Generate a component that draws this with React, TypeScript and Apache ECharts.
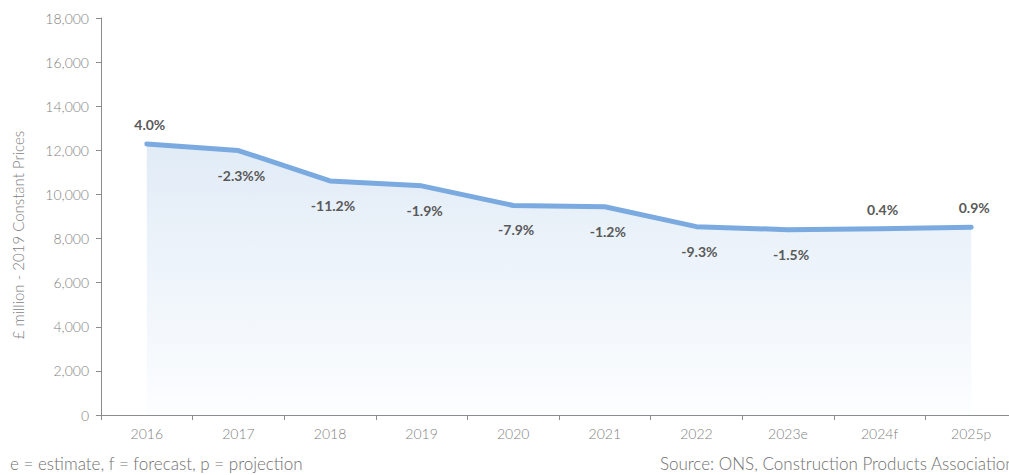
import React, { useEffect, useRef } from "react";
import * as echarts from "echarts";

const categories = ["2016", "2017", "2018", "2019", "2020", "2021", "2022", "2023e", "2024f", "2025p"];
const values = [12290, 11990, 10610, 10390, 9500, 9440, 8540, 8400, 8440, 8510];
const changeLabels = ["4.0%", "-2.3%%", "-11.2%", "-1.9%", "-7.9%", "-1.2%", "-9.3%", "-1.5%", "0.4%", "0.9%"];
const labelAbove = [true, false, false, false, false, false, false, false, true, true];
const yTicks = { min: 0, max: 18000, interval: 2000 };
const yName = "£ million - 2019 Constant Prices";
const noteText = "e = estimate, f = forecast, p = projection";
const sourceText = "Source: ONS, Construction Products Association";

const FONT = "Lato, 'Open Sans', sans-serif";

export default function App() {
  const ref = useRef<HTMLDivElement>(null);
  useEffect(() => {
    if (!ref.current) return;
    const chart = echarts.init(ref.current, null, { renderer: "svg" });
    const data = values.map((v, i) => ({
      value: v,
      label: {
        show: true,
        position: labelAbove[i] ? "top" : "bottom",
        distance: labelAbove[i] ? 12 : 17,
        offset: [3, 0],
        formatter: changeLabels[i],
      },
    }));
    chart.setOption({
      animation: false,
      grid: { left: 101, right: 13, top: 18, bottom: 60 },
      xAxis: {
        type: "category",
        data: categories,
        boundaryGap: true,
        axisLine: { lineStyle: { color: "#8c8c8c", width: 1 } },
        axisTick: { show: true, length: 5, lineStyle: { color: "#8c8c8c" } },
        axisLabel: { color: "#7f7f7f", fontSize: 14, fontWeight: 300, fontFamily: FONT, margin: 11 },
      },
      yAxis: {
        type: "value",
        min: yTicks.min,
        max: yTicks.max,
        interval: yTicks.interval,
        axisLine: { show: true, lineStyle: { color: "#8c8c8c", width: 1 } },
        axisTick: { show: true, length: 5, lineStyle: { color: "#8c8c8c" } },
        splitLine: { show: false },
        axisLabel: {
          color: "#7f7f7f",
          fontSize: 14,
          fontWeight: 300,
          fontFamily: FONT,
          margin: 12,
          formatter: (v: number) => v.toLocaleString("en-GB"),
        },
      },
      graphic: [
        {
          type: "text",
          x: 18,
          y: 235,
          rotation: Math.PI / 2,
          style: {
            text: yName,
            fill: "#7f7f7f",
            fontSize: 15,
            fontWeight: 300,
            fontFamily: FONT,
            align: "center",
            verticalAlign: "middle",
          },
        },
        {
          type: "text",
          x: 10,
          y: 463,
          style: {
            text: noteText,
            fill: "#6f6f6f",
            fontSize: 17,
            fontWeight: 300,
            fontFamily: FONT,
            align: "left",
            verticalAlign: "middle",
          },
        },
        {
          type: "text",
          x: 660,
          y: 463,
          style: {
            text: sourceText,
            fill: "#6f6f6f",
            fontSize: 17,
            fontWeight: 300,
            fontFamily: FONT,
            align: "left",
            verticalAlign: "middle",
          },
        },
      ],
      series: [
        {
          type: "line",
          data,
          symbol: "circle",
          symbolSize: 1,
          showSymbol: true,
          itemStyle: { color: "rgba(122,170,223,0)" },
          smooth: false,
          lineStyle: { color: "#7aaadf", width: 5, cap: "round", join: "round" },
          areaStyle: {
            color: new echarts.graphic.LinearGradient(0, 0, 0, 1, [
              { offset: 0, color: "#d4e3f3" },
              { offset: 1, color: "#fbfdff" },
            ]),
          },
          label: {
            show: true,
            color: "#595959",
            fontSize: 14,
            fontWeight: "bold",
            fontFamily: FONT,
          },
        },
      ],
    });
    return () => chart.dispose();
  }, []);
  return (
    <div style={{ position: "fixed", left: 0, top: 0, width: 1009, height: 475, overflow: "hidden", background: "#fff" }}>
      <div ref={ref} style={{ width: 1030, height: 475 }} />
    </div>
  );
}
